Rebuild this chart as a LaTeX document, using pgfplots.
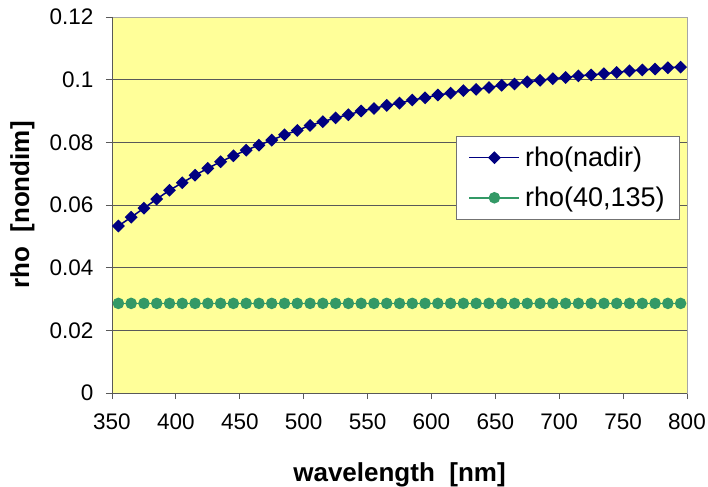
\documentclass[border=0pt]{standalone}
\usepackage{fontspec}
\setmainfont{Liberation Sans}
\usepackage{pgfplots}
\pgfplotsset{compat=1.18}

\definecolor{plotbg}{HTML}{FFFF99}
\definecolor{navyline}{HTML}{000080}
\definecolor{seagreen}{HTML}{339966}

\begin{document}
\begin{tikzpicture}
\begin{axis}[
    scale only axis,
    width=575bp, height=376bp,
    xmin=350, xmax=800,
    ymin=0, ymax=0.12,
    xtick={350,400,...,800},
    ytick={0,0.02,0.04,0.06,0.08,0.1,0.12},
    yticklabels={0,0.02,0.04,0.06,0.08,0.1,0.12},
    scaled y ticks=false,
    xticklabel style={/pgf/number format/1000 sep=, yshift=-11bp},
    yticklabel style={xshift=-9bp},
    /pgf/number format/assume math mode=true,
    tick label style={font=\fontsize{22.5bp}{26bp}\selectfont},
    xtick pos=bottom, ytick pos=left,
    tick align=outside,
    major tick length=6bp,
    tick style={black!65, line width=0.8pt},
    axis line style={draw=black!35, line width=0.8pt},
    ymajorgrids=true,
    grid style={black!65, line width=0.8pt},
    axis background/.style={fill=plotbg},
    xlabel={wavelength\ \ [nm]},
    ylabel={rho\ \ [nondim]},
    label style={font=\bfseries\fontsize{26bp}{30bp}\selectfont},
    xlabel style={at={(axis description cs:0.5,-0.218)}, anchor=center},
    ylabel style={at={(axis description cs:-0.156,0.5)}, anchor=center},
    legend style={
        at={(0.986,0.6835)}, anchor=north east,
        fill=white, draw=black!55,
        font=\fontsize{27bp}{31bp}\selectfont,
        cells={anchor=west},
        row sep=15bp,
        inner xsep=12bp, inner ysep=9bp,
        /tikz/every odd column/.append style={column sep=3bp},
    },
    legend image code/.code={%
        \draw[mark repeat=2,mark phase=2,#1,line width=1.5bp]
            plot coordinates {(0bp,0bp) (25bp,0bp) (50bp,0bp)};},
]

\coordinate (SW) at (rel axis cs:0,0);
\coordinate (NE) at (rel axis cs:1,1);

\addplot[color=navyline, line width=1.5bp, mark=square*,
         mark size=3.8bp, mark options={rotate=45, solid}]
coordinates {
    (355,0.0533) (365,0.0561) (375,0.0590) (385,0.0619) (395,0.0647)
    (405,0.0671) (415,0.0695) (425,0.0717) (435,0.0738) (445,0.0757)
    (455,0.0775) (465,0.0791) (475,0.0807) (485,0.0824) (495,0.0838)
    (505,0.0854) (515,0.0866) (525,0.0878) (535,0.0888) (545,0.0900)
    (555,0.0908) (565,0.0918) (575,0.0925) (585,0.0935) (595,0.0942)
    (605,0.0951) (615,0.0957) (625,0.0965) (635,0.0969) (645,0.0975)
    (655,0.0982) (665,0.0986) (675,0.0993) (685,0.0998) (695,0.1003)
    (705,0.1007) (715,0.1012) (725,0.1015) (735,0.1019) (745,0.1023)
    (755,0.1028) (765,0.1031) (775,0.1034) (785,0.1038) (795,0.1040)
};
\addlegendentry{rho(nadir)}

\addplot[color=seagreen, line width=1.5bp, mark=*, mark size=5bp]
coordinates {
    (355,0.0286) (365,0.0286) (375,0.0286) (385,0.0286) (395,0.0286)
    (405,0.0286) (415,0.0286) (425,0.0286) (435,0.0286) (445,0.0286)
    (455,0.0286) (465,0.0286) (475,0.0286) (485,0.0286) (495,0.0286)
    (505,0.0286) (515,0.0286) (525,0.0286) (535,0.0286) (545,0.0286)
    (555,0.0286) (565,0.0286) (575,0.0286) (585,0.0286) (595,0.0286)
    (605,0.0286) (615,0.0286) (625,0.0286) (635,0.0286) (645,0.0286)
    (655,0.0286) (665,0.0286) (675,0.0286) (685,0.0286) (695,0.0286)
    (705,0.0286) (715,0.0286) (725,0.0286) (735,0.0286) (745,0.0286)
    (755,0.0286) (765,0.0286) (775,0.0286) (785,0.0286) (795,0.0286)
};
\addlegendentry{rho(40,135)}

\draw[black!65, line width=0.8pt] (rel axis cs:0,1) -- (rel axis cs:0,0) -- (rel axis cs:1,0);
\end{axis}
\pgfresetboundingbox
\path[use as bounding box] ([xshift=-112bp,yshift=-94bp]SW) rectangle ([xshift=21bp,yshift=17bp]NE);
\end{tikzpicture}
\end{document}
